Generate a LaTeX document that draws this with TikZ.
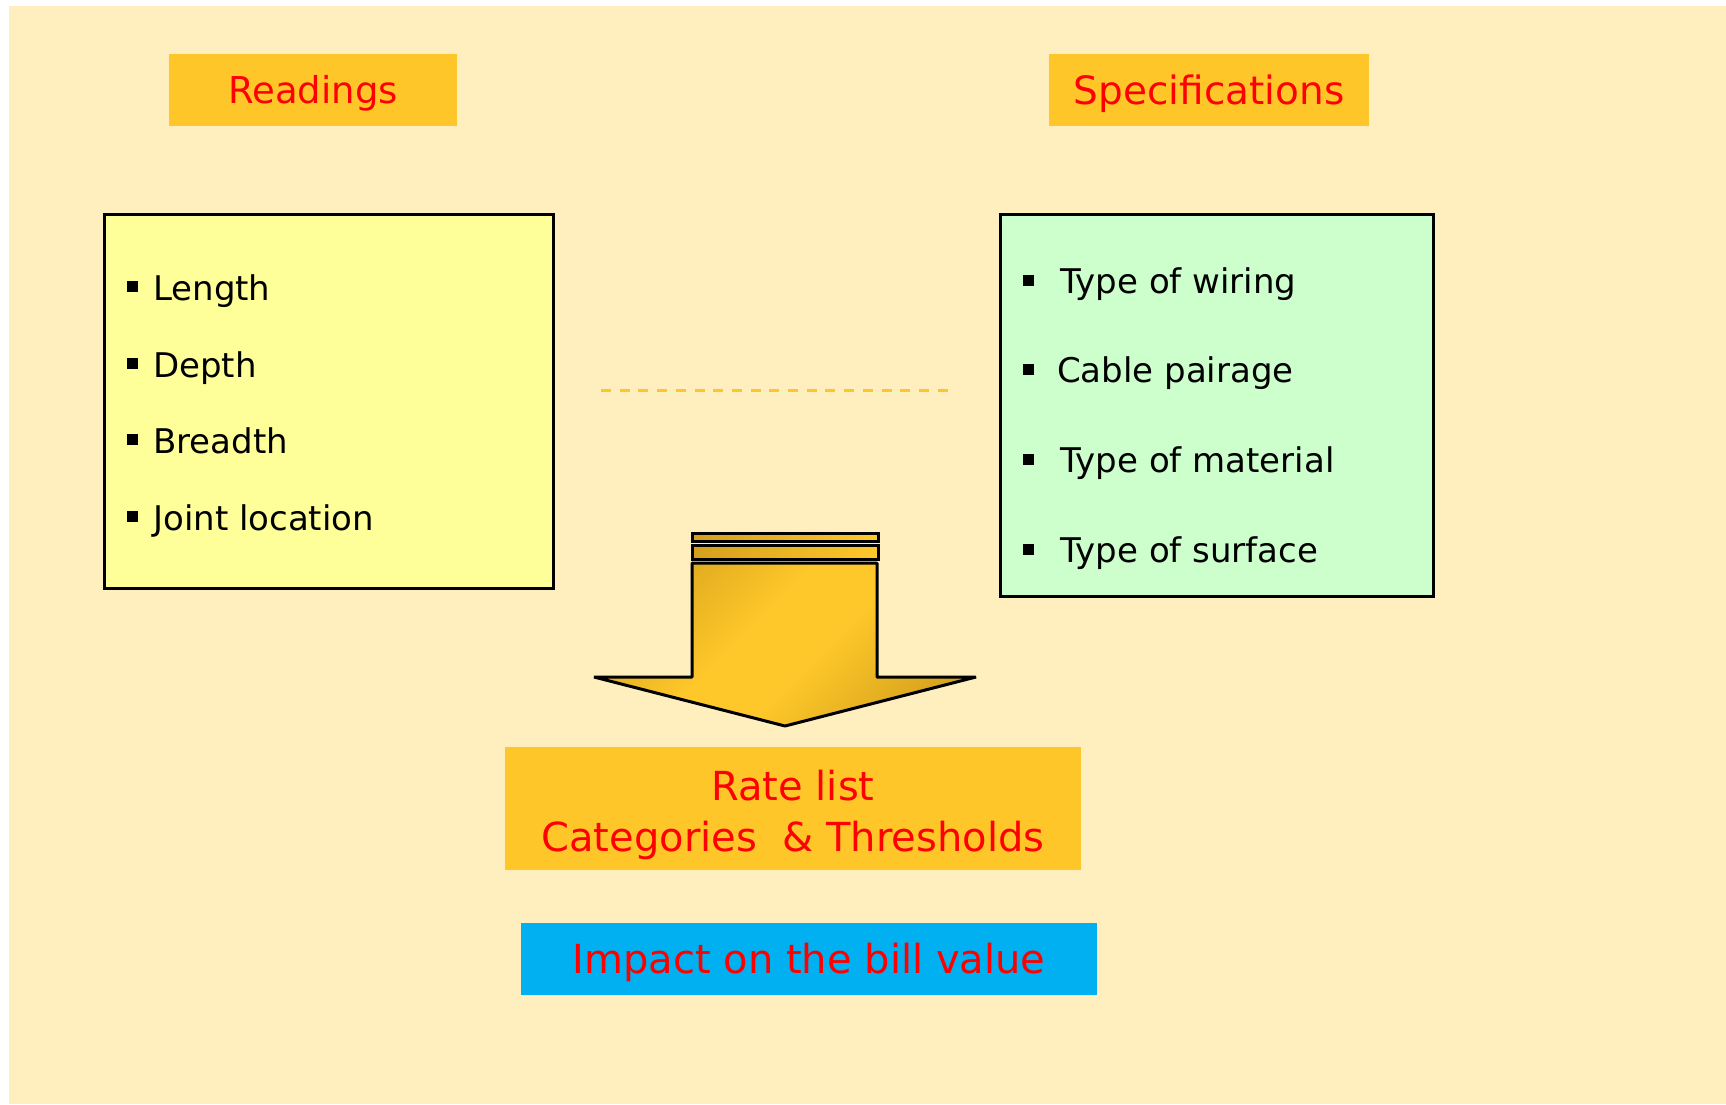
\documentclass[tikz,border=0pt]{standalone}
\usepackage{fontspec}
\setmainfont{DejaVu Sans}
\definecolor{bg}{HTML}{FFEEBE}
\definecolor{hdr}{HTML}{FFC629}
\definecolor{ylw}{HTML}{FFFF99}
\definecolor{grn}{HTML}{CCFFCC}
\definecolor{cyn}{HTML}{00B0F0}
\definecolor{redt}{HTML}{FF0000}
\definecolor{gdark}{HTML}{D4A01C}
\definecolor{glight}{HTML}{FFC82A}
\definecolor{dashc}{HTML}{FFC52A}
\pgfdeclareverticalshading{goldsh}{100bp}{color(0bp)=(gdark); color(22bp)=(gdark); color(45bp)=(glight); color(56bp)=(glight); color(80bp)=(gdark); color(100bp)=(gdark)}
\pgfdeclarehorizontalshading{barsh}{100bp}{color(0bp)=(gdark); color(25bp)=(gdark); color(75bp)=(glight); color(100bp)=(glight)}
\tikzset{
  hdrbox/.style={fill=hdr, inner sep=0pt, text=redt, align=center, text depth=0pt},
  listbox/.style={draw=black, line width=3pt, inner sep=0pt},
  bul/.style={fill=black, inner sep=0pt, minimum size=11pt},
  item/.style={anchor=base west, inner sep=0pt, font=\fontsize{34}{40}\selectfont},
  ratetext/.style={anchor=base, inner sep=0pt, text=redt, font=\fontsize{40}{48}\selectfont},
  arrowpart/.style={draw=black, line width=3pt, shading=goldsh, shading angle=45, line join=bevel},
  barpart/.style={draw=black, line width=3pt, shading=barsh},
}
\begin{document}
\begin{tikzpicture}[x=1pt,y=-1pt]
\useasboundingbox (0,0) rectangle (1726,1104);
\fill[bg] (9,6) rectangle (1726,1104);

% header boxes
\node[hdrbox, minimum width=288pt, minimum height=72pt, font=\fontsize{37}{44}\selectfont, text height=27pt] (readings) at (313,90) {Readings};
\node[hdrbox, minimum width=320pt, minimum height=72pt, font=\fontsize{39}{46}\selectfont, text height=28pt] (specs) at (1209,90) {Specifications};

% list boxes
\node[listbox, fill=ylw, minimum width=449pt, minimum height=374pt] (left) at (328.5,401) {};
\node[listbox, fill=grn, minimum width=433pt, minimum height=382pt] (right) at (1216.5,405) {};

% left items
\node[bul] (lb1) at (132.5,286) {};
\node[item] (l1) at (153,300) {Length};
\node[bul] (lb2) at (132.5,363) {};
\node[item] (l2) at (153,377) {Depth};
\node[bul] (lb3) at (132.5,439) {};
\node[item] (l3) at (153,453) {Breadth};
\node[bul] (lb4) at (132.5,516) {};
\node[item] (l4) at (153,530) {Joint location};

% right items
\node[bul] (rb1) at (1028.5,280.5) {};
\node[item] (r1) at (1060,293) {Type of wiring};
\node[bul] (rb2) at (1028.5,369.5) {};
\node[item] (r2) at (1057,382) {Cable pairage};
\node[bul] (rb3) at (1028.5,459.5) {};
\node[item] (r3) at (1060,472) {Type of material};
\node[bul] (rb4) at (1028.5,549.5) {};
\node[item] (r4) at (1060,562) {Type of surface};

% dashed line
\coordinate (dl) at (601,390);
\coordinate (dr) at (949,390);
\draw[dashc, line width=3pt, dash pattern=on 10pt off 8.7pt] (dl) -- (dr);

% arrow
\shadedraw[barpart] (692,533) rectangle (878,541);
\shadedraw[barpart] (692,545) rectangle (878,559);
\shadedraw[arrowpart] (692,563) -- (692,677) -- (594,677) -- (785,726) -- (976,677) -- (877,677) -- (877,563) -- cycle;

% rate list
\node[hdrbox, minimum width=576pt, minimum height=123pt] (rate) at (793,808.5) {};
\node[ratetext] (rate1) at (793,800) {Rate list};
\node[ratetext] (rate2) at (793,851) {Categories~~\& Thresholds};

% impact
\node[fill=cyn, inner sep=0pt, text=redt, minimum width=576pt, minimum height=72pt, font=\fontsize{40}{48}\selectfont, text height=29pt, text depth=0pt] (impact) at (809,959) {Impact on the bill value};
\end{tikzpicture}
\end{document}
